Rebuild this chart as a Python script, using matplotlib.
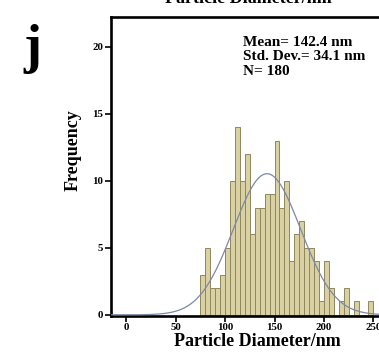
import numpy as np
import matplotlib

matplotlib.use("Agg")
import matplotlib.pyplot as plt

# histogram counts per 5 nm bin (bins 75..250)
bin_edges = list(range(75, 255, 5))
counts = [3, 5, 2, 2, 3, 5, 10, 14, 10, 12, 6, 8, 8, 9, 9, 13, 8, 10,
          4, 6, 7, 5, 5, 4, 1, 4, 2, 0, 1, 2, 0, 1, 0, 0, 1]
mean_nm = 142.4
sd_nm = 34.1
n_total = 180
x_ticks = [0, 50, 100, 150, 200, 250]
y_ticks = [0, 5, 10, 15, 20]

serif = ["Liberation Serif", "DejaVu Serif"]
plt.rcParams["font.family"] = serif
plt.rcParams["font.weight"] = "bold"

W, H = 379, 352
fig = plt.figure(figsize=(W / 100, H / 100), dpi=100)
ax = fig.add_axes([111 / W, 36.5 / H, 293 / W, 298.2 / H])

lefts = bin_edges[:-1]
ax.bar(lefts, counts, width=5, align="edge", color="#d9d1a3",
       edgecolor="#8f875c", linewidth=0.7, zorder=2)

xs = np.linspace(-20, 300, 400)
pdf = n_total * 5 / (sd_nm * np.sqrt(2 * np.pi)) * np.exp(-0.5 * ((xs - mean_nm) / sd_nm) ** 2)
ax.plot(xs, pdf, color="#7d88a8", linewidth=0.9, zorder=3)

ax.set_xlim(-15.4, 281)
ax.set_ylim(-0.05, 22.2)
ax.set_xticks(x_ticks)
ax.set_yticks(y_ticks)
ax.tick_params(direction="out", length=4, width=1.2, labelsize=7.8, pad=1.5)
for lab in ax.get_xticklabels() + ax.get_yticklabels():
    lab.set_fontweight("bold")
for side in ["left", "bottom", "top", "right"]:
    ax.spines[side].set_linewidth(1.9)

fig.text(257 / W, 1 - 341 / H, "Particle Diameter/nm", ha="center", va="center",
         fontsize=13, fontweight="bold")
fig.text(248 / W, 1 - 3 / H, "Particle Diameter/nm", ha="center", va="baseline",
         fontsize=13, fontweight="bold")
fig.text(73 / W, 1 - 150 / H, "Frequency", ha="center", va="center",
         rotation=90, fontsize=13, fontweight="bold")
fig.text(32 / W, 1 - 49 / H, "j", ha="center", va="center",
         fontsize=39, fontweight="bold")

stats = f"Mean= {mean_nm} nm\nStd. Dev.= {sd_nm} nm\nN= {n_total}"
fig.text(243 / W, 1 - 36 / H, stats, ha="left", va="top", fontsize=11,
         fontweight="bold", linespacing=1.15)

fig.savefig("out.png", dpi=100)
